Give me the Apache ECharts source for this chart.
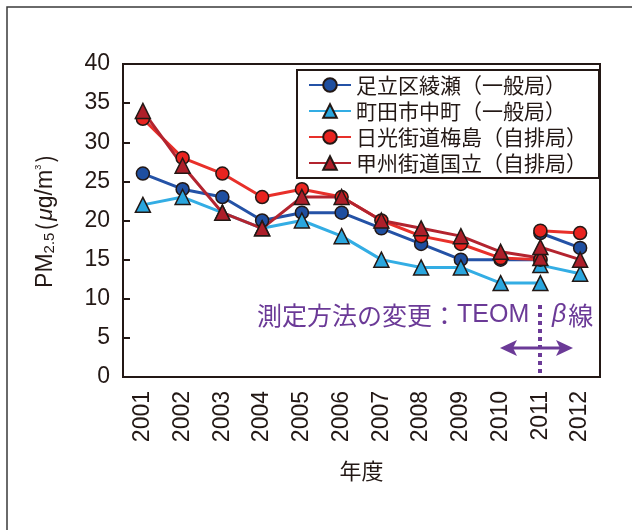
<!DOCTYPE html>
<html>
<head>
<meta charset="utf-8">
<script src="https://cdn.jsdelivr.net/npm/echarts@6/dist/echarts.min.js"></script>
<style>
  html, body { margin: 0; padding: 0; background: #fff; }
  #main { width: 632px; height: 530px; }
</style>
</head>
<body>
<div id="main"></div>
<script>
  // 年度
  var years = ['2001', '2002', '2003', '2004', '2005', '2006', '2007', '2008', '2009', '2010', '2011', '2012']
  var yTicks = [0, 5, 10, 15, 20, 25, 30, 35, 40]
  var stationNames = ['足立区綾瀬（一般局）', '町田市中町（一般局）', '日光街道梅島（自排局）', '甲州街道国立（自排局）']

  // TEOM (2001-2011)
  var adachiOld  = [26, 24, 23, 20, 21, 21, 19, 17, 15, 15, 15, '-']
  var machidaOld = [22, 23, 21, 19, 20, 18, 15, 14, 14, 12, 12, '-']
  var nikkoOld   = [33, 28, 26, 23, 24, 23, 20, 18, 17, 15.2, 15, '-']
  var koshuOld   = [34, 27, 21, 19, 23, 23, 20, 19, 18, 16, 15.2, '-']
  // β線 (2011-2012)
  var adachiNew  = ['-', '-', '-', '-', '-', '-', '-', '-', '-', '-', 18.4, 16.5]
  var machidaNew = ['-', '-', '-', '-', '-', '-', '-', '-', '-', '-', 14.3, 13.2]
  var nikkoNew   = ['-', '-', '-', '-', '-', '-', '-', '-', '-', '-', 18.7, 18.4]
  var koshuNew   = ['-', '-', '-', '-', '-', '-', '-', '-', '-', '-', 16.6, 15]

  var ink = '#231815'
  var purple = '#6b3a97'
  var fontNum = "'Liberation Sans', 'Noto Sans CJK JP', sans-serif"
  var fontJp = "'Noto Sans CJK JP', 'Liberation Sans', sans-serif"

  var styles = [
    { line: '#2452a6', fill: '#1f4fa0', symbol: 'circle', size: 13 },
    { line: '#33ade4', fill: '#2aa6de', symbol: 'triangle', size: 15 },
    { line: '#e8302a', fill: '#e8231f', symbol: 'circle', size: 13 },
    { line: '#b3242f', fill: '#ad1f2a', symbol: 'triangle', size: 15 }
  ]

  function mkSeries (idx, data) {
    var s = styles[idx]
    return {
      name: stationNames[idx],
      type: 'line',
      data: data,
      symbol: s.symbol,
      symbolSize: s.size,
      showAllSymbol: true,
      connectNulls: false,
      lineStyle: { color: s.line, width: 3 },
      itemStyle: { color: s.fill, borderColor: ink, borderWidth: 1.5 },
      emphasis: { disabled: true },
      animation: false
    }
  }

  var myChart = echarts.init(document.getElementById('main'))
  var option = {
    animation: false,
    grid: {
      left: 123, right: 32, top: 64, bottom: 153,
      show: true, borderColor: ink, borderWidth: 2, backgroundColor: 'transparent'
    },
    legend: {
      data: stationNames,
      orient: 'vertical',
      left: 297, top: 70,
      padding: [4, 12, 4, 11],
      itemGap: 4,
      itemWidth: 42,
      itemHeight: 17,
      borderColor: ink,
      borderWidth: 2,
      backgroundColor: '#fff',
      textStyle: { fontFamily: fontJp, fontSize: 21, lineHeight: 22, color: ink }
    },
    xAxis: {
      type: 'category',
      data: years,
      boundaryGap: true,
      name: '年度',
      nameLocation: 'middle',
      nameGap: 83,
      nameTextStyle: { fontFamily: fontJp, fontSize: 22, color: ink },
      axisLine: { lineStyle: { color: ink, width: 2 } },
      axisTick: { inside: true, length: 8, lineStyle: { color: ink, width: 2 } },
      axisLabel: { rotate: 90, margin: 14, fontFamily: fontNum, fontSize: 23, color: ink }
    },
    yAxis: {
      type: 'value',
      min: yTicks[0],
      max: yTicks[yTicks.length - 1],
      interval: 5,
      name: '{a|PM}{s|2.5}{q|(}{i|μ}{a|g/m}{p|3}{q|)}',
      nameLocation: 'middle',
      nameGap: 66,
      nameTextStyle: {
        color: ink,
        rich: {
          a: { fontFamily: fontNum, fontSize: 23, color: ink },
          q: { fontFamily: fontJp, fontSize: 23, color: ink, padding: [0, 2, 0, 2] },
          i: { fontFamily: fontNum, fontSize: 23, fontStyle: 'italic', color: ink },
          s: { fontFamily: fontNum, fontSize: 15, color: ink, verticalAlign: 'bottom', padding: [6, 0, 0, 0] },
          p: { fontFamily: fontNum, fontSize: 9, color: ink, verticalAlign: 'top', padding: [0, 0, 6, 0] }
        }
      },
      splitLine: { show: false },
      axisLine: { show: true, lineStyle: { color: ink, width: 2 } },
      axisTick: { show: true, inside: true, length: 7, lineStyle: { color: ink, width: 2 } },
      axisLabel: { margin: 13, fontFamily: fontNum, fontSize: 23, color: ink }
    },
    series: [
      mkSeries(0, adachiOld), mkSeries(0, adachiNew),
      mkSeries(1, machidaOld), mkSeries(1, machidaNew),
      mkSeries(2, nikkoOld), mkSeries(2, nikkoNew),
      mkSeries(3, koshuOld), mkSeries(3, koshuNew)
    ],
    graphic: [
      // 外枠
      { type: 'rect', shape: { x: 7, y: 7, width: 700, height: 600 }, style: { fill: 'none', stroke: '#3a3a3a', lineWidth: 1.5 }, silent: true },
      // 測定方法の変更
      { type: 'text', left: 257, top: 303, style: {
          text: '{j|測定方法の変更：}{e|TEOM}',
          rich: {
            j: { fontFamily: fontJp, fontSize: 25, fill: purple },
            e: { fontFamily: fontNum, fontSize: 25, fill: purple }
          }
        } },
      { type: 'text', left: 552, top: 303, style: {
          text: '{b|β}{c|線}',
          rich: {
            b: { fontFamily: fontNum, fontSize: 25, fontStyle: 'italic', fill: purple, padding: [0, 2, 0, 0] },
            c: { fontFamily: fontJp, fontSize: 25, fill: purple }
          }
        } },
      { type: 'line', shape: { x1: 540, y1: 305, x2: 540, y2: 377 }, style: { stroke: purple, lineWidth: 4, lineDash: [4, 4] }, z: 10 },
      { type: 'line', shape: { x1: 506, y1: 348, x2: 566, y2: 348 }, style: { stroke: purple, lineWidth: 3 }, z: 10 },
      { type: 'polygon', shape: { points: [[500, 348], [517, 340], [513, 348], [517, 356]] }, style: { fill: purple }, z: 10 },
      { type: 'polygon', shape: { points: [[573, 348], [556, 340], [560, 348], [556, 356]] }, style: { fill: purple }, z: 10 }
    ]
  }
  myChart.setOption(option)
</script>
</body>
</html>
